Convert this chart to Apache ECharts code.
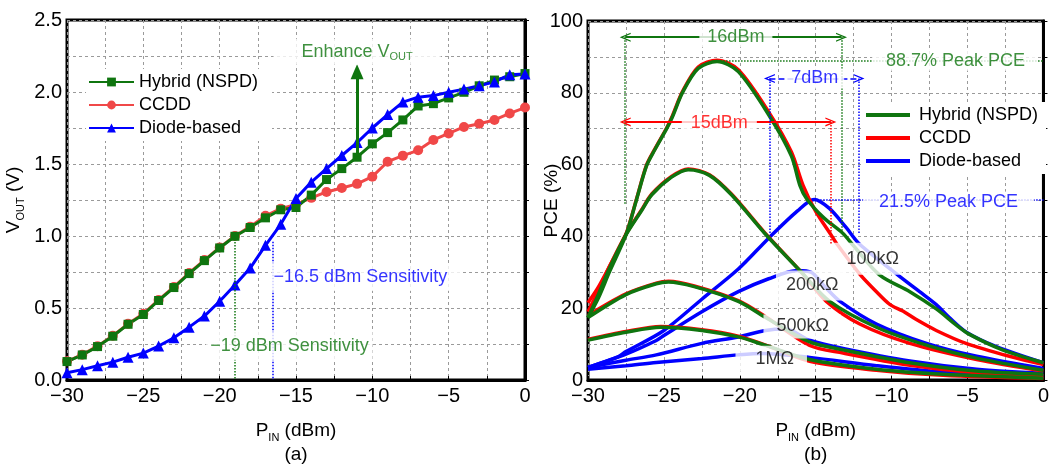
<!DOCTYPE html>
<html><head><meta charset="utf-8">
<script src="https://cdn.jsdelivr.net/npm/echarts@6/dist/echarts.min.js"></script>
<style>html,body{margin:0;padding:0;background:#fff}#c{width:1052px;height:472px}</style>
</head><body><div id="c"></div>
<script>
const FONT = "'Liberation Sans',Arial,sans-serif";
const GREEN = '#0f750f', RED_A = '#f04848', RED = '#ff0000', BLUE = '#0000ff';
const TXT = 18;

// ---------- (a) VOUT vs PIN ----------
const pinA = [-30,-29,-28,-27,-26,-25,-24,-23,-22,-21,-20,-19,-18,-17,-16,-15,-14,-13,-12,-11,-10,-9,-8,-7,-6,-5,-4,-3,-2,-1,0];
const hybridV = [0.128,0.174,0.232,0.304,0.387,0.455,0.552,0.642,0.739,0.829,0.917,0.998,1.059,1.126,1.182,1.198,1.284,1.392,1.468,1.547,1.640,1.718,1.806,1.903,1.919,1.959,1.998,2.043,2.083,2.106,2.128];
const ccddV   = [0.13,0.176,0.235,0.307,0.39,0.46,0.556,0.646,0.743,0.833,0.92,1.0,1.065,1.14,1.19,1.22,1.265,1.306,1.333,1.362,1.412,1.516,1.558,1.595,1.667,1.712,1.757,1.779,1.806,1.851,1.892];
const diodeV  = [0.05,0.072,0.099,0.124,0.158,0.187,0.236,0.293,0.367,0.444,0.547,0.66,0.777,0.935,1.081,1.261,1.374,1.468,1.559,1.649,1.75,1.843,1.93,1.964,1.975,1.998,2.02,2.043,2.07,2.12,2.125];
const seriesNames = ['Hybrid (NSPD)','CCDD','Diode-based'];

// ---------- (b) PCE vs PIN ----------
const h100P = [-30,-29.3,-28.6,-27.5,-26.8,-26.14,-25.59,-24.82,-24.45,-23.77,-22.74,-21.5,-20.1,-18,-16.6,-16.05,-15.6,-14.5,-13.2,-12.55,-10.8,-8.8,-7.06,-5.74,-4.87,-2.7,0];
const h100E = [17.4,23,30,40.4,50.3,59.7,64.2,70,73.2,80.1,86.8,88.7,85.9,73.2,62.4,54.3,50.5,45.3,40.8,37.6,29.3,24.6,19.8,15.3,12.7,8.4,4.8];
const c100P = [-30,-29.3,-28.6,-27.5,-26.8,-26.14,-25.59,-24.82,-24.45,-23.77,-22.74,-21.5,-20.1,-18,-16.6,-15.84,-15,-14,-13.64,-12.1,-11,-10.1,-9.26,-8.4,-7.06,-5.1,-2.24,0];
const c100E = [21.5,26,31.5,40.6,50.5,59.9,64.4,70.2,73.5,80.4,87.2,89.1,86.4,74,63.5,54.3,47,40.5,38.1,29.5,24.6,21,19.2,16.9,13.8,10.2,6.6,4.3];
const d100P = [-30,-28,-27.5,-25,-22.5,-20.1,-18.1,-16.2,-15.1,-14.1,-13,-12.1,-9.6,-8.16,-7.06,-6.2,-5.1,-3.1,0];
const d100E = [3.5,6.5,7.9,13.8,22.5,30.9,39.5,47.1,50.3,47.8,42.5,37.8,29.3,24.6,21,17.4,13.4,9.3,4.8];

const h200P = [-30,-29.3,-28.6,-27.5,-26.5,-25.8,-24.5,-23.4,-22,-20.55,-18.35,-15.94,-14.08,-11,-7.7,-4.4,0];
const h200E = [17.4,24,31,40.4,47,51.6,56.5,58.6,57,51.6,40.8,30,21.9,14.7,9.7,6.1,2.7];
const c200P = [-30,-29.3,-28.6,-27.5,-26.5,-25.8,-24.5,-23.4,-22,-20.55,-18.35,-15.94,-14.3,-12.1,-8.8,-4.4,0];
const c200E = [19,25,31.5,40.6,47.2,51.8,56.7,58.8,57.2,51.8,41,30,21.9,15.6,10.2,5.7,2.5];
const d200P = [-30,-27.5,-25.5,-25,-22.5,-20.1,-18.1,-16.2,-15.3,-14.4,-13.4,-11,-7.7,-4.4,0];
const d200E = [3.5,7.2,11,12.4,19,24.6,28.2,30.5,30,26,21.9,15.6,10.2,6.6,3.2];

const h500P = [-30,-27.5,-25.5,-24.7,-23,-20.1,-18.3,-15.4,-13.2,-8.8,-4.4,0];
const h500E = [17.4,23.8,26.8,27.3,26,21.9,17.4,10.6,8.4,4.8,2.5,1.6];
const c500P = [-30,-27.5,-25.5,-24.7,-23,-20.1,-18.3,-15.4,-13.2,-8.8,-4.4,0];
const c500E = [18,24,27,27.5,26.2,22.1,17.6,9.6,7.5,4.1,2,1.2];
const d500P = [-30,-27.5,-25.5,-22.5,-20.1,-18.3,-17,-15.4,-13.2,-8.8,-4.4,0];
const d500E = [3.5,5.5,7.0,10.2,12,13.8,14.2,11.1,8.8,5.3,3,1.9];

const h1MP = [-30,-27.5,-25.2,-22.5,-20.1,-18.35,-15.4,-11,-6.6,0];
const h1ME = [11.1,13.3,14.7,13.8,12,9.7,5.7,3,1.6,0.5];
const c1MP = [-30,-27.5,-25.2,-22.5,-20.1,-18.35,-15.4,-11,-6.6,0];
const c1ME = [11.3,13.5,14.9,14,12.2,9.8,5.2,2.7,1.3,0.4];
const d1MP = [-30,-27.5,-25.5,-22.5,-20.1,-18.5,-15.4,-11,-6.6,0];
const d1ME = [3,4,4.9,6,7,7.4,6.3,4,2.2,1];

const loadLabels = ['100kΩ','200kΩ','500kΩ','1MΩ'];

// ---------- helpers ----------
const zip = (xs, ys) => xs.map((x, i) => [x, ys[i]]);
const minus = v => (v < 0 ? '\u2212' + Math.abs(v) : String(v));
const chevron = 'path://M0,10 L5,0 L10,10 L8.6,10 L5,3 L1.4,10 Z';

const axisFont = {fontFamily: FONT, fontSize: 20, color: '#000'};
const splitDash = {show: true, lineStyle: {type: [3, 3], color: '#9a9a9a', width: 1}};
const rich = {
  v: {fontFamily: FONT, fontSize: 19, color: '#000', lineHeight: 24, verticalAlign: 'middle'},
  s: {fontFamily: FONT, fontSize: 11, color: '#000', lineHeight: 24, verticalAlign: 'bottom'}
};

function xAx(grid, letter) {
  return {
    type: 'value', gridIndex: grid, min: -30, max: 0, interval: 2.5,
    axisLine: {show: true, onZero: false, lineStyle: {color: '#000', width: 3}},
    axisTick: {show: true, inside: true, length: 4, lineStyle: {color: '#000'}},
    axisLabel: Object.assign({margin: 6, formatter: v => (v % 5 === 0 ? minus(v) : '')}, axisFont),
    splitLine: splitDash,
    name: '{v|P}{s|IN}{v| (dBm)}\n{v|' + letter + '}', nameLocation: 'middle', nameGap: 39,
    nameMoveOverlap: false,
    nameTextStyle: {rich: rich, lineHeight: 24}
  };
}
function curve(name, color, P, E) {
  return {type: 'line', name: name, xAxisIndex: 1, yAxisIndex: 1, data: zip(P, E),
    showSymbol: false, symbol: 'none', smooth: 0.3, clip: true, silent: true,
    lineStyle: {color: color, width: 3.5}, itemStyle: {color: color}, z: 2};
}
function seg(a, b, color, type, width, s1, s2, size) {
  return [
    {coord: a, symbol: s1 || 'none', symbolSize: size || [9, 11], lineStyle: {color: color, type: type, width: width}},
    {coord: b, symbol: s2 || 'none', symbolSize: size || [9, 11]}
  ];
}
function lab(x, y, text, color, padding, extra) {
  return {value: [x, y], label: Object.assign({
    show: true, position: 'inside', formatter: text, color: color, fontFamily: FONT, fontSize: TXT,
    backgroundColor: '#fff', padding: padding
  }, extra || {})};
}

const chart = echarts.init(document.getElementById('c'), null, {renderer: 'canvas'});
const rName = n => n + ' ';

chart.setOption({
  animation: false,
  backgroundColor: '#fff',
  grid: [
    {left: 67, top: 20, width: 458, height: 370, show: true, borderColor: '#000', borderWidth: 3, backgroundColor: 'transparent'},
    {left: 588, top: 21, width: 456, height: 370, show: true, borderColor: '#000', borderWidth: 3, backgroundColor: 'transparent'}
  ],
  xAxis: [xAx(0, '(a)'), xAx(1, '(b)')],
  yAxis: [
    {type: 'value', gridIndex: 0, min: 0, max: 2.5, interval: 0.25,
      axisLine: {show: true, lineStyle: {color: '#000', width: 3}},
      axisTick: {show: true, inside: true, length: 4, lineStyle: {color: '#000'}},
      axisLabel: Object.assign({margin: 5, formatter: v => (Math.abs(v * 2 - Math.round(v * 2)) < 1e-6 ? v.toFixed(1) : '')}, axisFont),
      splitLine: splitDash,
      name: '{v|V}{s|OUT}{v| (V)}', nameLocation: 'middle', nameRotate: 90, nameGap: 41, nameMoveOverlap: false,
      nameTextStyle: {rich: rich}},
    {type: 'value', gridIndex: 1, min: 0, max: 100, interval: 10,
      axisLine: {show: true, lineStyle: {color: '#000', width: 3}},
      axisTick: {show: true, inside: true, length: 4, lineStyle: {color: '#000'}},
      axisLabel: Object.assign({margin: 5, formatter: v => (v % 20 === 0 ? String(v) : '')}, axisFont),
      splitLine: splitDash,
      name: '{v|PCE (%)}', nameLocation: 'middle', nameRotate: 90, nameGap: 24, nameMoveOverlap: false,
      nameTextStyle: {rich: rich}}
  ],
  legend: [
    {left: 86, top: 69, orient: 'vertical', data: seriesNames, itemWidth: 45, itemHeight: 11, itemGap: 3,
      backgroundColor: '#fff', padding: [3, 14, 3, 2], selectedMode: false,
      textStyle: {fontFamily: FONT, fontSize: TXT, color: '#000', lineHeight: 20}},
    {left: 863, top: 102, orient: 'vertical',
      data: seriesNames.map(n => ({name: rName(n), icon: 'rect'})), itemWidth: 44, itemHeight: 4, itemGap: 3,
      backgroundColor: '#fff', padding: [3, 8, 3, 3], selectedMode: false,
      formatter: n => n.trim(),
      textStyle: {fontFamily: FONT, fontSize: TXT, color: '#000', lineHeight: 20, padding: [0, 0, 0, 4]}}
  ],
  series: [
    // (a)
    {type: 'line', name: 'CCDD', xAxisIndex: 0, yAxisIndex: 0, data: zip(pinA, ccddV), symbol: 'circle', symbolSize: 10,
      showSymbol: true, lineStyle: {color: RED_A, width: 3}, itemStyle: {color: RED_A}, z: 3, silent: true},
    {type: 'line', name: 'Hybrid (NSPD)', xAxisIndex: 0, yAxisIndex: 0, data: zip(pinA, hybridV), symbol: 'rect', symbolSize: 9,
      showSymbol: true, lineStyle: {color: GREEN, width: 3}, itemStyle: {color: GREEN}, z: 3, silent: true},
    {type: 'line', name: 'Diode-based', xAxisIndex: 0, yAxisIndex: 0, data: zip(pinA, diodeV), symbol: 'triangle', symbolSize: 11,
      showSymbol: true, lineStyle: {color: BLUE, width: 3}, itemStyle: {color: BLUE}, z: 3, silent: true},
    // (a) annotation lines
    {type: 'line', xAxisIndex: 0, yAxisIndex: 0, data: [], z: 4, silent: true,
      markLine: {silent: true, animation: false, label: {show: false}, symbol: 'none', data: [
        seg([-11, 1.55], [-11, 2.14], GREEN, 'solid', 3, 'none', 'triangle', [13, 15]),
        seg([-19, 1.0], [-19, 0], GREEN, 'dotted', 1.5),
        seg([-16.5, 0.96], [-16.5, 0], BLUE, 'dotted', 1.5)
      ]}},
    // (a) text labels
    {type: 'scatter', xAxisIndex: 0, yAxisIndex: 0, symbolSize: 0, z: 10, silent: true, data: [
      lab(-11.0, 2.28, '{a|Enhance V}{b|OUT}', GREEN, [2, 28, 2, 28], {rich: {
        a: {fontFamily: FONT, fontSize: TXT, color: GREEN, lineHeight: 22, verticalAlign: 'middle'},
        b: {fontFamily: FONT, fontSize: 11, color: GREEN, lineHeight: 22, verticalAlign: 'bottom'}}}),
      lab(-16.6, 0.716, '\u221216.5 dBm Sensitivity', BLUE, [5, 14, 5, 2], {position: 'right', distance: 0}),
      lab(-15.43, 0.236, '\u221219 dBm Sensitivity', GREEN, [5, 4, 5, 4])
    ]},
    // (b) curves: blue, red, green
    curve(rName('Diode-based'), BLUE, d100P, d100E),
    curve(rName('Diode-based'), BLUE, d200P, d200E),
    curve(rName('Diode-based'), BLUE, d500P, d500E),
    curve(rName('Diode-based'), BLUE, d1MP, d1ME),
    curve(rName('CCDD'), RED, c100P, c100E),
    curve(rName('CCDD'), RED, c200P, c200E),
    curve(rName('CCDD'), RED, c500P, c500E),
    curve(rName('CCDD'), RED, c1MP, c1ME),
    curve(rName('Hybrid (NSPD)'), GREEN, h100P, h100E),
    curve(rName('Hybrid (NSPD)'), GREEN, h200P, h200E),
    curve(rName('Hybrid (NSPD)'), GREEN, h500P, h500E),
    curve(rName('Hybrid (NSPD)'), GREEN, h1MP, h1ME),
    // (b) annotation lines
    {type: 'line', xAxisIndex: 1, yAxisIndex: 1, data: [], z: 4, silent: true,
      markLine: {silent: true, animation: false, label: {show: false}, symbol: 'none', data: [
        seg([-27.55, 95.5], [-27.55, 49], GREEN, 'dotted', 1.5),
        seg([-13.3, 95.5], [-13.3, 40.5], GREEN, 'dotted', 1.5),
        seg([-27.55, 95.5], [-13.3, 95.5], GREEN, 'solid', 2, chevron, chevron),
        seg([-21.3, 88.8], [0, 88.8], GREEN, 'dotted', 1.5),
        seg([-14.0, 71.9], [-14.0, 38], RED, 'dotted', 1.5),
        seg([-27.55, 71.9], [-14.0, 71.9], RED, 'solid', 2, chevron, chevron),
        seg([-18.05, 84], [-18.05, 40.5], BLUE, 'dotted', 1.5),
        seg([-12.15, 84], [-12.15, 40.5], BLUE, 'dotted', 1.5),
        seg([-18.05, 84], [-12.15, 84], BLUE, 'dashed', 1.5, chevron, chevron),
        seg([-15.1, 50.3], [0, 50.3], BLUE, 'dotted', 1.5)
      ]}},
    // (b) text labels
    {type: 'scatter', xAxisIndex: 1, yAxisIndex: 1, symbolSize: 0, z: 10, silent: true, data: [
      lab(-20.26, 95.5, '16dBm', GREEN, [1, 8, 1, 8]),
      lab(-21.35, 71.6, '15dBm', RED, [1, 9, 1, 9]),
      lab(-15.07, 84, '7dBm', BLUE, [1, 6, 1, 6]),
      lab(-5.86, 88.9, '88.7% Peak PCE', GREEN, [1, 12, 1, 14]),
      lab(-6.25, 49.7, '21.5% Peak PCE', BLUE, [1, 16, 1, 16]),
      lab(-11.58, 33.8, loadLabels[0], '#000', [7, 3, 7, 13]),
      lab(-15.33, 26.35, loadLabels[1], '#000', [6, 7, 6, 10]),
      lab(-15.89, 14.9, loadLabels[2], '#000', [3, 12, 3, 13]),
      lab(-17.93, 5.95, loadLabels[3], '#000', [4, 13, 4, 20])
    ]}
  ]
});
</script></body></html>
